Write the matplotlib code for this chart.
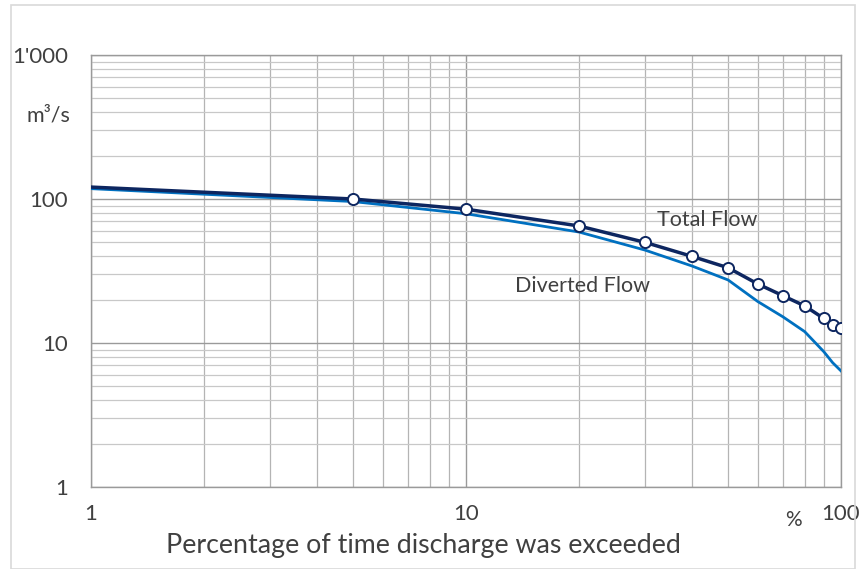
import matplotlib
matplotlib.use('Agg')
import matplotlib.pyplot as plt
from matplotlib.ticker import FixedLocator, FuncFormatter, LogLocator, NullFormatter
from matplotlib.patches import Rectangle

# percentage of time exceeded
pct_total = [1, 5, 10, 20, 30, 40, 50, 60, 70, 80, 90, 95, 100]
total_flow = [121, 100, 85, 65, 50, 40, 33.3, 25.7, 21.3, 18.1, 14.8, 13.3, 12.8]

pct_diverted = [1, 5, 10, 20, 30, 40, 50, 60, 70, 80, 90, 95, 100]
diverted_flow = [118, 96, 79, 59, 44.2, 34.3, 27.4, 19.4, 15.2, 12.0, 8.7, 7.3, 6.4]

y_ticks = [1, 10, 100, 1000]
y_labels = ["1", "10", "100", "1'000"]
x_ticks = [1, 10, 100]
x_labels = ["1", "10", "100"]

plt.rcParams['font.family'] = ['Lato', 'DejaVu Sans']
txt = '#404040'

fig = plt.figure(figsize=(8.6, 5.69), dpi=100)
fig.patches.append(Rectangle((11 / 860, 0), 844 / 860, 564 / 569, transform=fig.transFigure,
                             fill=False, edgecolor='#d9d9d9', linewidth=1.2))
ax = fig.add_axes([91 / 860, 82 / 569, 750 / 860, 432 / 569])

ax.set_xscale('log')
ax.set_yscale('log')
ax.set_xlim(1, 100)
ax.set_ylim(1, 1000)

ax.plot(pct_diverted, diverted_flow, color='#0070c0', linewidth=2.0, zorder=3)
ax.plot(pct_total, total_flow, color='#0d2660', linewidth=2.5, zorder=4,
        marker='o', markersize=8, markerfacecolor='white', markeredgecolor='#0d2660',
        markeredgewidth=1.4, markevery=list(range(1, len(pct_total))))

ax.xaxis.set_major_locator(FixedLocator(x_ticks))
ax.xaxis.set_major_formatter(FuncFormatter(lambda v, p: x_labels[x_ticks.index(round(v))] if round(v) in x_ticks else ''))
ax.yaxis.set_major_locator(FixedLocator(y_ticks))
ax.yaxis.set_major_formatter(FuncFormatter(lambda v, p: y_labels[y_ticks.index(round(v))] if round(v) in y_ticks else ''))
ax.xaxis.set_minor_locator(LogLocator(base=10, subs=range(2, 10)))
ax.yaxis.set_minor_locator(LogLocator(base=10, subs=range(2, 10)))
ax.xaxis.set_minor_formatter(NullFormatter())
ax.yaxis.set_minor_formatter(NullFormatter())

ax.grid(True, which='major', color='#9a9a9a', linewidth=1.0)
ax.grid(True, which='minor', color='#c8c8c8', linewidth=0.9)
ax.xaxis.grid(True, which='minor', color='#b4b4b4', linewidth=0.9)
ax.set_axisbelow(True)
for s in ax.spines.values():
    s.set_color('#9a9a9a')
    s.set_linewidth(1.0)

ax.tick_params(which='both', length=0)
ax.tick_params(axis='y', pad=16.5, labelsize=16, labelcolor=txt)
ax.tick_params(axis='x', pad=12, labelsize=16, labelcolor=txt)

ax.text(44, 72, 'Total Flow', fontsize=15.5, color=txt, ha='center', va='center')
ax.text(20.5, 25, 'Diverted Flow', fontsize=15.5, color=txt, ha='center', va='center')

fig.text(48 / 860, 1 - 115 / 569, 'm³/s', fontsize=15.5, color=txt, ha='center', va='center')
fig.text(793 / 860, 1 - 520 / 569, '%', fontsize=15, color=txt, ha='center', va='center')
fig.text(423 / 860, 1 - 546 / 569, 'Percentage of time discharge was exceeded', fontsize=19.3,
         color=txt, ha='center', va='center')

fig.savefig('out.png', dpi=100)
